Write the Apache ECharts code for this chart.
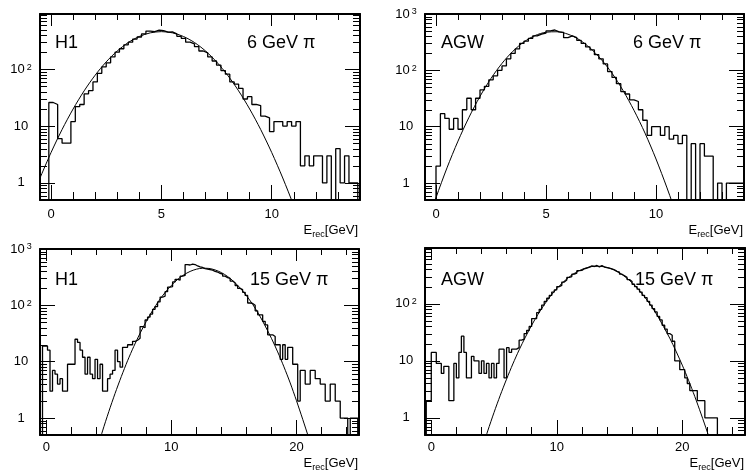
<!DOCTYPE html>
<html><head><meta charset="utf-8">
<script src="https://cdn.jsdelivr.net/npm/echarts@6/dist/echarts.min.js"></script>
<style>html,body{margin:0;padding:0;background:#fff}#c{width:746px;height:474px}</style>
</head><body><div id="c"></div>
<script>
// ---------------- data ----------------
const binWidth = 0.2; // GeV

// H1, 6 GeV pi
const h1_6GeV_firstEdge = -0.1;
const h1_6GeV_counts = [26,24,6,5,5,12,22,24,37,42, 60,85,110,130,165,200,230,270,300,340,
  370,420,470,460,490,480,450,455,420,380, 350,300,280,250,210,195,165,140,118,95,
  82,60,55,46,30,33,24,23,15,14, 8,12,12,10,12,10,12,2,3,2, 3,3,1,3,0,4,1,3,1,1];

// AGW, 6 GeV pi
const agw_6GeV_firstEdge = 0.0;
const agw_6GeV_counts = [2,17,14,9,14,9,20,32,20,32, 45,52,68,80,100,120,160,200,240,300,
  330,370,410,440,460,500,520,480,470,380, 410,380,340,300,260,230,190,160,130,95,
  75,58,42,38,30,28,20,13,7,10, 10,7,10,6,7,5,7,0,5,0, 5,3,3,0,1,0,1,1,1,1];

// H1, 15 GeV pi
const h1_15GeV_firstEdge = -0.3;
const h1_15GeV_counts = [19,19,16,3,7,6,4,5,3,3, 9,9,9,25,22,16,12,6,12,6,
  5,11,5,9,3,3,5,6,7,16, 10,8,18,18,20,20,23,24,26,42,
  40,55,62,70,85,95,115,140,145,175, 210,215,260,290,280,330,340,530,520,540,
  530,500,480,470,450,440,430,420,400,390, 370,360,330,310,300,270,250,225,200,190,
  170,150,110,108,100,80,68,68,52,45, 30,30,28,20,20,11,20,11,18,18,
  9,9,2,7,7,4,4,7,7,5, 5,4,4,2,2,4,4,2,2,1, 1,1,0,1,1,1];

// AGW, 15 GeV pi
const agw_15GeV_firstEdge = -0.4;
const agw_15GeV_counts = [2,2,14,14,9,9,6,8,8,2, 2,9,5,14,27,14,5,5,12,10,
  10,6,10,6,9,5,9,5,9,16, 16,5,17,14,16,16,17,23,24,30,
  34,40,55,55,70,80,95,110,125,140, 160,175,200,210,240,260,290,300,330,345,
  380,385,410,420,440,460,450,470,440,470, 440,430,420,410,395,370,360,330,310,290,
  265,245,220,200,180,160,140,128,110,95, 82,72,60,52,42,36,30,28,22,10,
  10,7,7,5,4,3,3,3,2,2, 2,1,1,1,1,1,0];

// fitted curves
const fitEnergy_6GeV = [-0.5,0,0.5,1,1.5,2,2.5,3,3.5,4,4.5,5,5.5,6,6.5,7,7.5,8,8.5,9,9.5,10,10.5,11,11.5];
const fit_H1_6GeV  = [1.22,3.42,8.7,20,41.7,78.8,135,210,296,378,438,460,438,378,296,210,135,78.8,41.7,20,8.7,3.42,1.22,0.395,0.116];
const fit_AGW_6GeV = [0.146,0.55,1.86,5.55,14.7,34.5,72,133,219,320,414,475,484,438,352,250,158,89,44,19.5,7.7,2.67,0.82,0.226,0.055];
const fitEnergy_15GeV = [4,4.5,5,5.5,6,6.5,7,7.5,8,8.5,9,9.5,10,10.5,11,11.5,12,12.5,13,13.5,14,14.5,15,15.5,16,16.5,17,17.5,18,18.5,19,19.5,20,20.5,21,21.5,22,22.5,23];
const fit_H1_15GeV  = [0.254,0.59,1.3,2.73,5.45,10.4,18.7,32,52,81,120,169,226,288,348,400,438,456,452,425,381,325,263,203,149,104,69,43,26,14.9,8.1,4.2,2.04,0.95,0.43,0.18,0.072,0.027,0.01];
const fit_AGW_15GeV = [0.27,0.59,1.24,2.49,4.77,8.8,15.5,26,42,65,96,136,184,238,296,352,400,435,454,453,433,396,347,291,234,179,132,93,63,40,25,14.8,8.4,4.56,2.36,1.17,0.56,0.254,0.11];

// axis ticks
const yMinorTickValues = [0.6,0.7,0.8,0.9,2,3,4,5,6,7,8,9,20,30,40,50,60,70,80,90,200,300,400,500,600,700,800,900];
const detectorLabels = ['H1','AGW','H1','AGW'];
const beamLabels = ['6 GeV \u03c0','6 GeV \u03c0','15 GeV \u03c0','15 GeV \u03c0'];

// ---------------- chart ----------------
const FONT = '"Liberation Sans", Arial, Helvetica, sans-serif';
const FLOOR = 0.1; // drawing level of empty bins (below the axis minimum, clipped)

const panels = [
  {grid:{left:40,top:14,width:320,height:186}, xMin:-0.5, xMax:14, xStep:5, yMax:940,
   edge:h1_6GeV_firstEdge, counts:h1_6GeV_counts, fitE:fitEnergy_6GeV, fit:fit_H1_6GeV,
   labelMargin:8, detX:55, beamX:247, textY:43.5, titleX:358, titleY:224},
  {grid:{left:425,top:14,width:319,height:186}, xMin:-0.5, xMax:14, xStep:5, yMax:1000,
   edge:agw_6GeV_firstEdge, counts:agw_6GeV_counts, fitE:fitEnergy_6GeV, fit:fit_AGW_6GeV,
   labelMargin:8, detX:441, beamX:633, textY:43.5, titleX:743, titleY:224},
  {grid:{left:40,top:249,width:319,height:186}, xMin:-0.5, xMax:25, xStep:10, yMax:1000,
   edge:h1_15GeV_firstEdge, counts:h1_15GeV_counts, fitE:fitEnergy_15GeV, fit:fit_H1_15GeV,
   labelMargin:6, detX:55, beamX:250, textY:280.5, titleX:358, titleY:457},
  {grid:{left:425,top:248,width:320,height:187}, xMin:-0.5, xMax:25, xStep:10, yMax:950,
   edge:agw_15GeV_firstEdge, counts:agw_15GeV_counts, fitE:fitEnergy_15GeV, fit:fit_AGW_15GeV,
   labelMargin:6, detX:441, beamX:635, textY:280.5, titleX:744, titleY:457}
];

function histPoints(start, counts) {
  const r = v => Math.round(v * 1000) / 1000;
  const pts = [[r(start), FLOOR]];
  counts.forEach((c, i) => pts.push([r(start + i * binWidth), c > 0 ? c : FLOOR]));
  const last = counts[counts.length - 1];
  const end = r(start + counts.length * binWidth);
  pts.push([end, last > 0 ? last : FLOOR]);
  pts.push([end, FLOOR]);
  return pts;
}

const black = {color:'#000', width:1};
const grids = [], xAxes = [], yAxes = [], series = [], graphics = [];

panels.forEach((p, i) => {
  grids.push(Object.assign({show:false, containLabel:false, outerBoundsMode:'none'}, p.grid));
  const step = p.xStep;
  const xCommon = {gridIndex:i, type:'value', min:p.xMin, max:p.xMax, splitNumber:3,
    minInterval:step, maxInterval:step, splitLine:{show:false}, minorSplitLine:{show:false},
    axisLine:{show:true, onZero:false, lineStyle:{color:'#000', width:2}}};
  xAxes.push(Object.assign({}, xCommon, {position:'bottom',
    axisTick:{show:true, inside:true, length:15, lineStyle:black},
    minorTick:{show:true, splitNumber:5, length:8, lineStyle:black},
    axisLabel:{show:true, interval:0, margin:p.labelMargin, fontSize:13, fontFamily:FONT, color:'#000',
      showMinLabel:true, showMaxLabel:true,
      formatter: v => (Math.abs(v / step - Math.round(v / step)) < 1e-6 ? String(Math.round(v)) : '')}}));
  xAxes.push(Object.assign({}, xCommon, {position:'top',
    axisTick:{show:true, inside:true, length:12, lineStyle:black},
    minorTick:{show:true, splitNumber:5, length:6, lineStyle:black},
    axisLabel:{show:false}}));

  const yCommon = {gridIndex:i, type:'log', logBase:10, min:0.5, max:p.yMax,
    splitLine:{show:false}, minorTick:{show:false}, minorSplitLine:{show:false},
    axisLine:{show:true, onZero:false, lineStyle:{color:'#000', width:2}},
    axisTick:{show:true, inside:true, length:15, lineStyle:black}};
  yAxes.push(Object.assign({}, yCommon, {position:'left',
    axisLabel:{show:true, interval:0, margin:19, align:'center', fontSize:13, fontFamily:FONT, color:'#000',
      showMinLabel:true, showMaxLabel:true,
      rich:{s:{fontSize:9, fontFamily:FONT, color:'#000', verticalAlign:'top', padding:[0,0,0,2]}},
      formatter: v => {
        const l = Math.log10(v), e = Math.round(l);
        if (Math.abs(l - e) > 0.01) return '';
        return e === 0 ? '1' : e === 1 ? '10' : '10{s|' + e + '}';
      }}}));
  yAxes.push(Object.assign({}, yCommon, {position:'right', axisLabel:{show:false}}));

  // histogram
  series.push({type:'line', name:'hist' + i, xAxisIndex:2*i, yAxisIndex:2*i, step:'end',
    data:histPoints(p.edge, p.counts), symbol:'none', clip:true, silent:true,
    lineStyle:{color:'#000', width:1.3}, z:3});
  // fitted curve
  series.push({type:'line', name:'fit' + i, xAxisIndex:2*i, yAxisIndex:2*i, smooth:0.3,
    data:p.fitE.map((e, k) => [e, p.fit[k]]), symbol:'none', clip:true, silent:true,
    lineStyle:{color:'#000', width:1}, z:4});
  // minor ticks of the log axes (2..9 per decade), both sides
  series.push({type:'custom', xAxisIndex:2*i, yAxisIndex:2*i, silent:true, z:5,
    data:yMinorTickValues.filter(v => v < p.yMax).map(v => [0, v]),
    renderItem:(params, api) => {
      const cs = params.coordSys;
      const y = Math.round(api.coord([api.value(0), api.value(1)])[1]) + 0.5;
      if (y < cs.y || y > cs.y + cs.height) return;
      return {type:'group', children:[
        {type:'line', shape:{x1:cs.x, y1:y, x2:cs.x + 7, y2:y}, style:{stroke:'#000', lineWidth:1}},
        {type:'line', shape:{x1:cs.x + cs.width, y1:y, x2:cs.x + cs.width - 7, y2:y}, style:{stroke:'#000', lineWidth:1}}
      ]};
    }});

  graphics.push({type:'text', x:p.detX, y:p.textY, silent:true,
    style:{text:detectorLabels[i], fontSize:18, fontFamily:FONT, fill:'#000', align:'left', verticalAlign:'middle'}});
  graphics.push({type:'text', x:p.beamX, y:p.textY, silent:true,
    style:{text:beamLabels[i], fontSize:18, fontFamily:FONT, fill:'#000', align:'left', verticalAlign:'middle'}});
  graphics.push({type:'text', x:p.titleX, y:p.titleY, silent:true,
    style:{text:'{b|E}{r|rec}{b|[GeV]}', align:'right', verticalAlign:'top', fill:'#000',
      rich:{b:{fontSize:13, fontFamily:FONT, fill:'#000', verticalAlign:'top'},
            r:{fontSize:9, fontFamily:FONT, fill:'#000', verticalAlign:'top', padding:[6,0,0,0]}}}});
});

const chart = echarts.init(document.getElementById('c'), null, {renderer:'canvas', width:746, height:474});
chart.setOption({
  animation:false,
  backgroundColor:'#fff',
  grid:grids, xAxis:xAxes, yAxis:yAxes, series:series, graphic:graphics
});
</script>
</body></html>
